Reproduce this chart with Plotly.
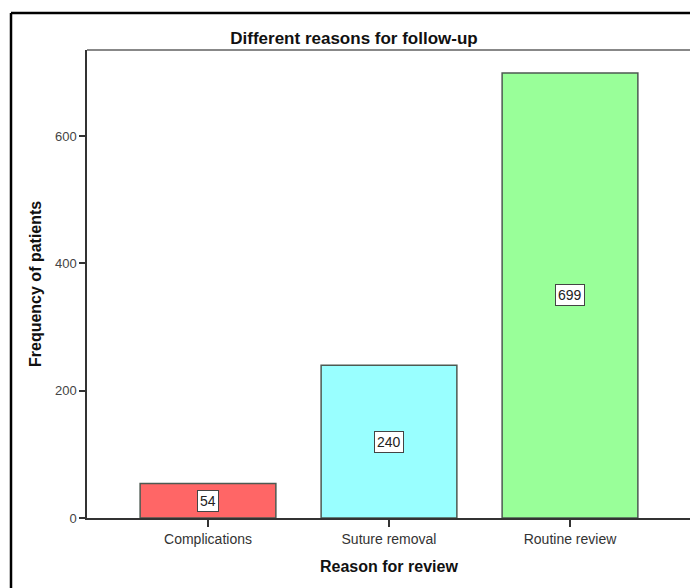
import plotly.graph_objects as go

categories = ["Complications", "Suture removal", "Routine review"]
counts = [54, 240, 699]
bar_colors = ["#ff6666", "#99ffff", "#99ff99"]
y_ticks = [0, 200, 400, 600]

W, H = 690, 588
L, R, T, B = 87, 0, 50, 70
pw, ph = W - L - R, H - T - B
FONT = "Liberation Sans, Arial"

def px_x(p):
    return (p - L) / pw

def px_y(p):
    return (H - B - p) / ph

fig = go.Figure()
fig.add_trace(go.Bar(
    x=list(range(len(categories))), y=counts, width=0.75,
    marker=dict(color=bar_colors, line=dict(color="#4d5a52", width=1.5)),
    hoverinfo="skip",
))

for i, v in enumerate(counts):
    fig.add_annotation(x=i, y=v / 2, text=str(v), showarrow=False,
                       font=dict(family=FONT, size=14, color="#222"),
                       bgcolor="white", bordercolor="#444", borderwidth=1, borderpad=2,
                       xanchor="center", yanchor="middle")

fig.add_annotation(xref="paper", yref="paper", x=px_x(35), y=0.5, text="<b>Frequency of patients</b>",
                   textangle=-90, showarrow=False, xanchor="center", yanchor="middle",
                   font=dict(family=FONT, size=16, color="#111"))
fig.add_annotation(xref="paper", yref="paper", x=px_x(389), y=px_y(566), text="<b>Reason for review</b>",
                   showarrow=False, xanchor="center", yanchor="middle",
                   font=dict(family=FONT, size=16, color="#111"))

# plot area top line
fig.add_shape(type="line", xref="paper", yref="paper", x0=0, x1=1, y0=1, y1=1,
              line=dict(color="#888", width=2))
# outer border (top and left visible)
fig.add_shape(type="line", xref="paper", yref="paper", x0=px_x(11), x1=1.0, y0=px_y(13), y1=px_y(13),
              line=dict(color="#000", width=2.5))
fig.add_shape(type="line", xref="paper", yref="paper", x0=px_x(11), x1=px_x(11), y0=px_y(H), y1=px_y(13),
              line=dict(color="#000", width=2.5))

fig.update_layout(
    width=W, height=H,
    margin=dict(l=L, r=R, t=T, b=B),
    paper_bgcolor="white", plot_bgcolor="white",
    showlegend=False,
    title=dict(text="<b>Different reasons for follow-up</b>", xref="container", yref="container",
               x=354 / W, y=1 - 38 / H, xanchor="center", yanchor="middle",
               font=dict(family=FONT, size=17, color="#111")),
    xaxis=dict(range=[-0.6685, 2.663], tickmode="array", tickvals=list(range(len(categories))),
               ticktext=categories, showgrid=False, zeroline=False,
               showline=True, linecolor="#333", linewidth=1.5,
               ticks="outside", ticklen=7, tickcolor="#333", tickwidth=1.5,
               tickfont=dict(family=FONT, size=14, color="#333")),
    yaxis=dict(range=[0, 735], tickmode="array", tickvals=y_ticks, showgrid=False, zeroline=False,
               showline=True, linecolor="#333", linewidth=1.5,
               ticks="outside", ticklen=6, tickcolor="#333", tickwidth=1.5,
               tickfont=dict(family=FONT, size=13, color="#444")),
)

fig.write_html("out.html")
